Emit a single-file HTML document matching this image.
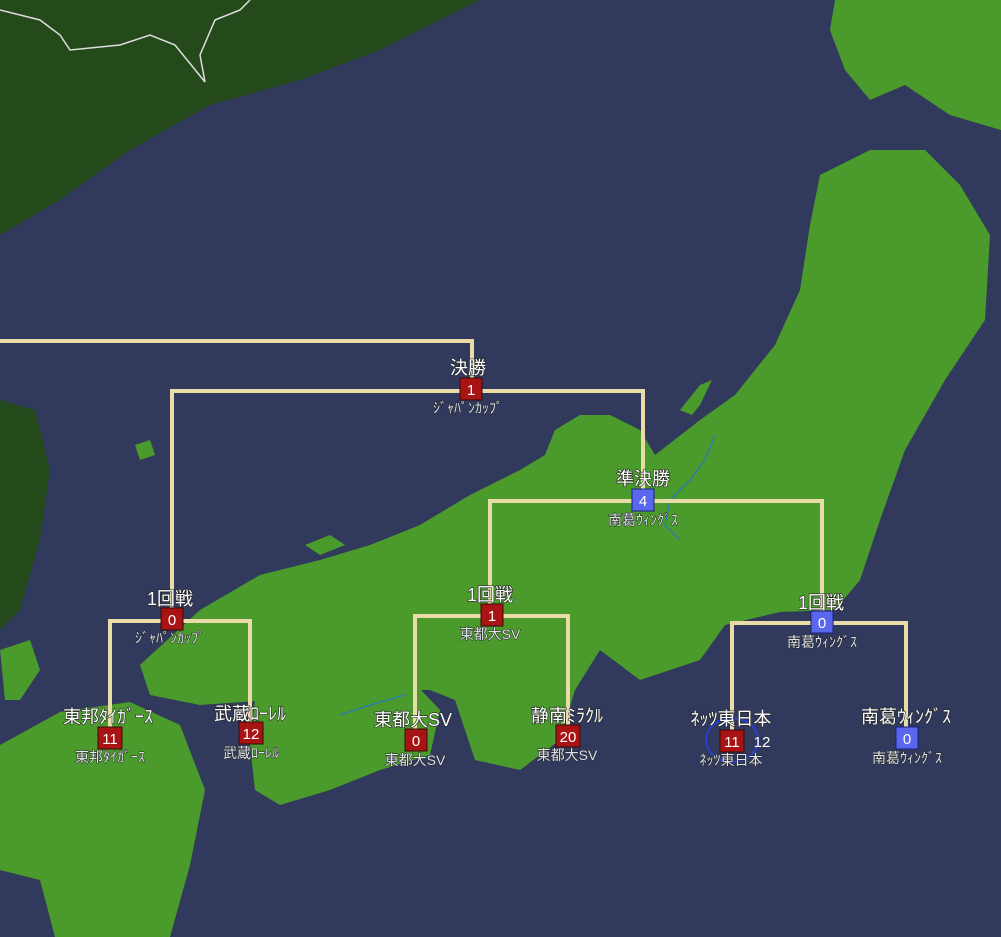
<!DOCTYPE html>
<html><head><meta charset="utf-8"><style>
html,body{margin:0;padding:0;}
body{width:1001px;height:937px;overflow:hidden;background:#313a5c;font-family:"Liberation Sans","Noto Sans CJK JP",sans-serif;}
svg{display:block}
.t{fill:#fff;font-size:18px;text-anchor:middle;font-family:"Liberation Sans","Noto Sans CJK JP",sans-serif;paint-order:stroke;stroke:#222;stroke-width:1.2px}
.s{fill:#dfe4ea;font-size:14px;text-anchor:middle;font-family:"Liberation Sans","Noto Sans CJK JP",sans-serif;paint-order:stroke;stroke:#222;stroke-width:1px}
.n{fill:#fff;font-size:15px;text-anchor:middle;font-family:"Liberation Sans",sans-serif}
</style></head><body>
<svg width="1001" height="937" viewBox="0 0 1001 937" xmlns="http://www.w3.org/2000/svg">
<rect width="1001" height="937" fill="#313a5c"/>
<polygon fill="#244a1c" points="0,0 480,0 430,25 380,50 300,80 210,105 130,150 60,200 0,235"/>
<polyline fill="none" stroke="#ddd" stroke-width="1.5" points="0,10 40,20 60,35 70,50 120,45 150,35 175,45 205,82 200,55 215,20 240,10 250,0"/>
<polygon fill="#244a1c" points="0,400 35,410 50,470 40,540 20,610 0,630"/>
<polygon fill="#4b9a2c" points="835,0 1001,0 1001,130 950,115 905,85 870,100 845,70 830,30"/>
<polygon fill="#4b9a2c" points="820,175 870,150 925,150 960,185 990,235 985,320 945,380 905,450 880,520 860,580 835,610 780,612 725,625 700,660 640,680 600,650 575,690 560,740 520,770 475,760 455,700 430,690 390,690 340,680 270,700 200,705 150,695 140,665 200,610 260,575 320,560 370,545 420,525 470,495 520,470 545,455 555,430 580,415 610,415 640,430 655,455 700,420 735,395 775,345 800,290 810,225"/>
<polygon fill="#4b9a2c" points="680,410 700,385 712,380 700,405 692,415"/>
<polygon fill="#4b9a2c" points="255,700 330,665 400,668 440,710 430,755 380,770 330,790 280,805 255,790 250,745"/>
<polygon fill="#4b9a2c" points="0,745 60,712 130,702 180,725 205,790 190,865 170,937 55,937 40,880 0,870"/>
<polygon fill="#4b9a2c" points="0,650 30,640 40,670 20,700 5,700"/>
<polygon fill="#4b9a2c" points="305,545 330,535 345,545 320,555"/>
<polygon fill="#4b9a2c" points="135,445 150,440 155,455 140,460"/>
<polyline fill="none" stroke="#2e7fa8" stroke-width="1.5" points="715,435 705,460 690,480 670,500 665,525 680,540"/>
<polyline fill="none" stroke="#2e7fa8" stroke-width="1.5" points="340,715 370,705 405,695"/>
<g fill="none" stroke="#e9dca6" stroke-width="4" stroke-linejoin="miter">
<polyline points="0,341 472,341 472,380"/>
<polyline points="172,612 172,391 643,391 643,490"/>
<polyline points="490,610 490,501 822,501 822,615"/>
<polyline points="110,730 110,621 250,621 250,728"/>
<polyline points="415,732 415,616 568,616 568,728"/>
<polyline points="732,732 732,623 906,623 906,730"/>
</g>
<ellipse cx="732" cy="740" rx="26" ry="22" fill="none" stroke="#2a3fd8" stroke-width="2"/>
<g stroke="#3a0a0a" stroke-width="1">
<rect x="460" y="378" width="22" height="22" fill="#a81414"/>
<rect x="632" y="489" width="22" height="22" fill="#5a66ee" stroke="#1a2080"/>
<rect x="161" y="608" width="22" height="22" fill="#a81414"/>
<rect x="481" y="604" width="22" height="22" fill="#a81414"/>
<rect x="811" y="611" width="22" height="22" fill="#5a66ee" stroke="#1a2080"/>
<rect x="98" y="727" width="24" height="22" fill="#a81414"/>
<rect x="239" y="722" width="24" height="22" fill="#a81414"/>
<rect x="405" y="729" width="22" height="22" fill="#a81414"/>
<rect x="556" y="725" width="24" height="22" fill="#a81414"/>
<rect x="720" y="730" width="24" height="22" fill="#a81414"/>
<rect x="896" y="727" width="22" height="22" fill="#5a66ee" stroke="#1a2080"/>
</g>
<g class="n">
<text x="471" y="395">1</text><text x="643" y="506">4</text>
<text x="172" y="625">0</text><text x="492" y="621">1</text><text x="822" y="628">0</text>
<text x="110" y="744">11</text><text x="251" y="739">12</text><text x="416" y="746">0</text>
<text x="568" y="742">20</text><text x="732" y="747">11</text><text x="907" y="744">0</text>
</g>
<text x="762" y="747" class="n">12</text>
<g class="t">
<text x="468" y="374">決勝</text><text x="643" y="485">準決勝</text>
<text x="170" y="605">1回戦</text><text x="490" y="601">1回戦</text><text x="821" y="609">1回戦</text>
<text x="108" y="723">東邦ﾀｲｶﾞｰｽ</text><text x="250" y="720">武蔵ﾛｰﾚﾙ</text><text x="413" y="726">東都大SV</text>
<text x="567" y="722">静南ﾐﾗｸﾙ</text><text x="731" y="725">ﾈｯﾂ東日本</text><text x="906" y="723">南葛ｳｨﾝｸﾞｽ</text>
</g>
<g class="s">
<text x="468" y="413">ｼﾞｬﾊﾟﾝｶｯﾌﾟ</text><text x="643" y="525">南葛ｳｨﾝｸﾞｽ</text>
<text x="170" y="643">ｼﾞｬﾊﾟﾝｶｯﾌﾟ</text><text x="490" y="639">東都大SV</text><text x="822" y="647">南葛ｳｨﾝｸﾞｽ</text>
<text x="110" y="762">東邦ﾀｲｶﾞｰｽ</text><text x="251" y="758">武蔵ﾛｰﾚﾙ</text><text x="415" y="765">東都大SV</text>
<text x="567" y="760">東都大SV</text><text x="731" y="765">ﾈｯﾂ東日本</text><text x="907" y="763">南葛ｳｨﾝｸﾞｽ</text>
</g>
</svg>
</body></html>
